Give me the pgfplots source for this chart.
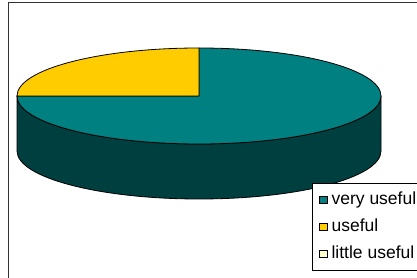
\documentclass[border=0pt]{standalone}
\usepackage{pgfplots}
\usepackage{pgfplotstable}
\pgfplotsset{compat=1.18}
\usepackage{fontspec}
\setmainfont{Liberation Sans}
\definecolor{pieteal}{HTML}{008080}
\definecolor{piedark}{HTML}{003F3F}
\definecolor{pieyellow}{HTML}{FFCC00}
\definecolor{pielight}{HTML}{FFFFCC}

\pgfplotstableread{
label value
{very useful} 75
useful 25
{little useful} 0
}\piedata

\begin{document}
\begin{tikzpicture}
\pgfplotstablegetelem{0}{value}\of\piedata \let\va\pgfplotsretval
\pgfplotstablegetelem{1}{value}\of\piedata \let\vb\pgfplotsretval
\pgfplotstablegetelem{2}{value}\of\piedata \let\vc\pgfplotsretval
\pgfmathsetmacro{\tot}{\va+\vb+\vc}
\pgfmathsetmacro{\aA}{90}
\pgfmathsetmacro{\aB}{90-\va/\tot*360}
\pgfmathsetmacro{\aC}{\aB-\vb/\tot*360}
\path[use as bounding box, clip] (0,0) rectangle (417pt,278pt);
\begin{axis}[
  at={(0,0)}, anchor=south west,
  scale only axis, width=417pt, height=278pt,
  xmin=0, xmax=417, ymin=0, ymax=278,
  axis lines=none, ticks=none, clip=false,
  legend image code/.code={\draw[#1, line width=0.6pt] (0pt,-3.8pt) rectangle (7.6pt,3.8pt);},
  legend cell align=left,
  legend style={at={(axis cs:312,95)}, anchor=north west,
    draw=black, line width=0.8pt,
    inner xsep=6.5pt, inner ysep=9pt,
    font=\fontsize{17.5}{21}\selectfont,
    row sep=12pt,
    nodes={inner sep=0pt, text height=12pt, text depth=3pt},
    /tikz/every odd column/.append style={column sep=4.5pt}},
]
% frame
\draw[black!80, line width=1pt] (axis cs:8,-20) -- (axis cs:8,275) -- (axis cs:440,275);
% side (front, visible half)
\filldraw[fill=piedark, draw=black, line width=0.8pt]
  (axis cs:17,182) -- ++(0,-55pt)
  arc[start angle=180, end angle=360, x radius=182pt, y radius=48pt]
  -- ++(0,55pt)
  arc[start angle=0, end angle=-180, x radius=182pt, y radius=48pt] -- cycle;
% top faces
\filldraw[fill=pieteal, draw=black, line width=0.8pt, line join=round]
  (axis cs:199,182) -- ++(\aA:182pt and 48pt)
  arc[start angle=\aA, end angle=\aB, x radius=182pt, y radius=48pt] -- cycle;
\filldraw[fill=pieyellow, draw=black, line width=0.8pt, line join=round]
  (axis cs:199,182) -- ++(\aB:182pt and 48pt)
  arc[start angle=\aB, end angle=\aC, x radius=182pt, y radius=48pt] -- cycle;
\addlegendimage{fill=pieteal, draw=black}
\addlegendentry{very useful}
\addlegendimage{fill=pieyellow, draw=black}
\addlegendentry{useful}
\addlegendimage{fill=pielight, draw=black}
\addlegendentry{little useful}
\end{axis}
\end{tikzpicture}
\end{document}
